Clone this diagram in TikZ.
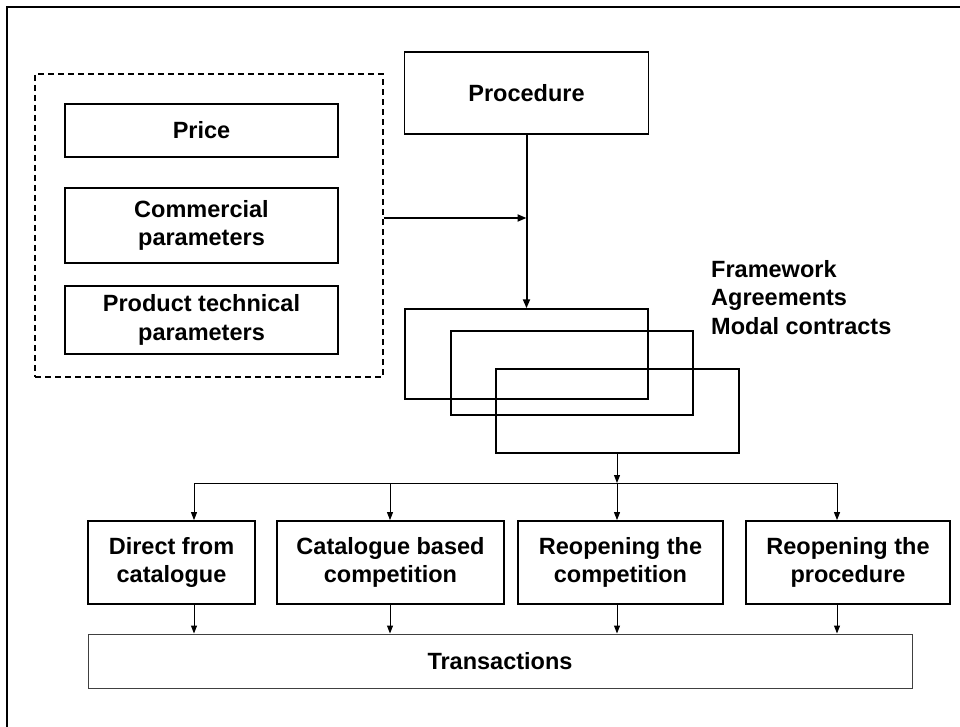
\documentclass[tikz,border=0pt]{standalone}
\usepackage{fontspec}
\setmainfont{Liberation Sans}
\usetikzlibrary{arrows.meta}
\begin{document}
\begin{tikzpicture}[x=1pt,y=-1pt,
  lbl/.style={font=\fontsize{23.5}{28.5}\selectfont\bfseries},
  box/.style={draw=black,line width=1.8pt,inner sep=0pt,align=center,lbl},
  fabox/.style={draw=black,line width=1.5pt,inner sep=0pt},
  grp/.style={draw=black,line width=1.8pt,dash pattern=on 6pt off 4pt,inner sep=0pt},
  thickarrow/.style={line width=2pt,-{Triangle[length=9pt,width=7pt]}},
  thinarrow/.style={line width=1pt,-{Triangle[length=8pt,width=6pt]}},
  thinline/.style={line width=1pt}]
\useasboundingbox (0,0) rectangle (960,727);
\fill[white] (0,0) rectangle (960,727);
% frame edges
\draw[line width=2.5pt] (7,727) -- (7,7) -- (960,7);

% parameter group
\node[grp,minimum width=348pt,minimum height=303pt] (group) at (209,225.5) {};
\node[box,minimum width=273pt,minimum height=53pt] (price) at (201.5,130.5) {Price};
\node[box,minimum width=273pt,minimum height=75pt] (comm) at (201.5,225.5) {Commercial\\parameters};
\node[box,minimum width=273pt,minimum height=68pt] (prod) at (201.5,320) {Product technical\\parameters};

% procedure
\node[box,minimum width=244pt,minimum height=82pt] (proc) at (526.5,93) {Procedure};

% framework agreements stack
\node[fabox,minimum width=243pt,minimum height=90pt] (fa1) at (526.5,354) {};
\node[fabox,minimum width=242pt,minimum height=84pt] (fa2) at (572,373) {};
\node[fabox,minimum width=243pt,minimum height=84pt] (fa3) at (617.5,411) {};
\node[lbl,anchor=north west,inner sep=0pt,align=left] (falbl) at (711,260)
  {Framework\\Agreements\\Modal contracts};

% junction of the parameter arrow
\coordinate (j) at (proc.south |- 0,218);
\draw[line width=2pt] (proc.south) -- (j);
\draw[thickarrow] (j) -- (j |- fa1.north);
\draw[thickarrow] (group.east |- j) -- (j);

% call-off methods
\node[box,minimum width=167pt,minimum height=83pt] (direct) at (171.5,562.5) {Direct from\\catalogue};
\node[box,minimum width=227pt,minimum height=83pt] (catal) at (390.5,562.5) {Catalogue based\\competition};
\node[box,minimum width=205pt,minimum height=83pt] (recomp) at (620.5,562.5) {Reopening the\\competition};
\node[box,minimum width=204pt,minimum height=83pt] (reproc) at (848,562.5) {Reopening the\\procedure};
\node[draw=black!75,line width=1pt,inner sep=0pt,lbl,minimum width=824pt,minimum height=54pt] (trans) at (500,661) {Transactions};

% distribution bus
\coordinate (c1) at (194,483);
\coordinate (c2) at (390,483);
\coordinate (c3) at (617,483);
\coordinate (c4) at (837,483);
\draw[thinarrow] (fa3.south -| c3) -- (c3);
\draw[thinline] (c1) -- (c4);
\foreach \c/\n in {c1/direct,c2/catal,c3/recomp,c4/reproc}{
  \draw[thinarrow] (\c) -- (\c |- \n.north);
  \draw[thinarrow] (\n.south -| \c) -- (trans.north -| \c);
}
\end{tikzpicture}
\end{document}
